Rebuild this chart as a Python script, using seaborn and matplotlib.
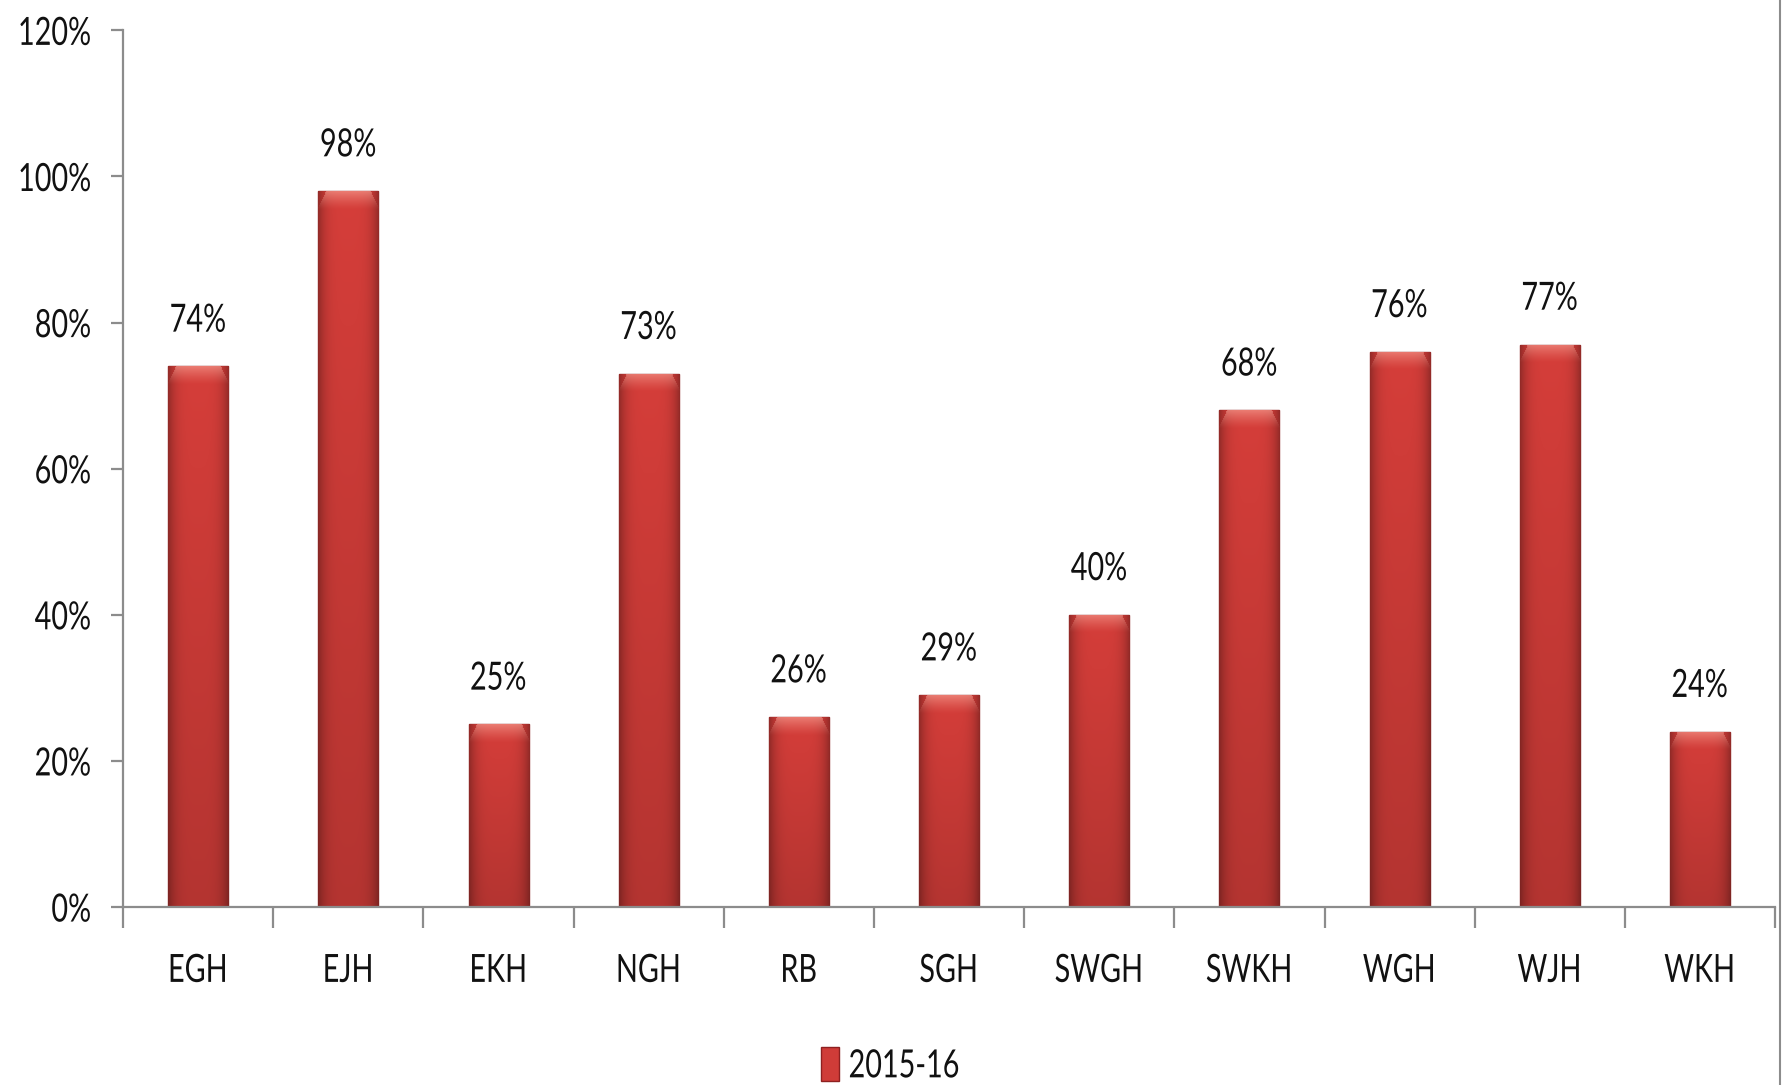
import numpy as np
import pandas as pd
import matplotlib
matplotlib.use("Agg")
import matplotlib.pyplot as plt
import seaborn as sns
from matplotlib.ticker import PercentFormatter, FixedLocator
from matplotlib.patches import Patch
from matplotlib.patheffects import AbstractPathEffect
from matplotlib.transforms import Affine2D

# data
hospitals = ["EGH", "EJH", "EKH", "NGH", "RB", "SGH", "SWGH", "SWKH", "WGH", "WJH", "WKH"]
share = [0.74, 0.98, 0.25, 0.73, 0.26, 0.29, 0.40, 0.68, 0.76, 0.77, 0.24]
year = "2015-16"
y_ticks = [0, 0.2, 0.4, 0.6, 0.8, 1.0, 1.2]

BAR_RED = "#cf3c38"
AXIS_GREY = "#8c8c8c"
FS = 28
SQUEEZE = 0.74


class Narrow(AbstractPathEffect):
    """squeeze glyphs sideways, the reference uses a narrow face"""
    def __init__(self, sx=SQUEEZE, anchor="center"):
        super().__init__()
        self.sx = sx
        self.anchor = anchor

    def draw_path(self, renderer, gc, tpath, affine, rgbFace=None):
        pts = affine.transform(tpath.vertices)
        if len(pts) == 0:
            return
        lo, hi = pts[:, 0].min(), pts[:, 0].max()
        cx = {"left": lo, "right": hi}.get(self.anchor, (lo + hi) / 2)
        tr = affine + Affine2D().translate(-cx, 0).scale(self.sx, 1).translate(cx, 0)
        renderer.draw_path(gc, tpath, tr, rgbFace)


sns.set_theme(style="white")
plt.rcParams["font.family"] = ["Lato", "DejaVu Sans"]
plt.rcParams["text.color"] = "#111111"

df = pd.DataFrame({"hospital": hospitals, "share": share, "year": year})

fig = plt.figure(figsize=(17.84, 10.85), dpi=100)
ax = fig.add_axes([0.069, 0.164, 0.926, 0.808])

sns.barplot(data=df, x="hospital", y="share", hue="year", palette=[BAR_RED],
            width=0.4, ax=ax, legend=False, saturation=1)

ax.set_ylim(0, 1.2)
ax.set_xlim(-0.5, len(hospitals) - 0.5)
ax.set_yticks(y_ticks)
ax.yaxis.set_major_formatter(PercentFormatter(1.0, decimals=0))
ax.set_xlabel("")
ax.set_ylabel("")

for side in ["top", "right"]:
    ax.spines[side].set_visible(False)
for side in ["left", "bottom"]:
    ax.spines[side].set_color(AXIS_GREY)
    ax.spines[side].set_linewidth(1.6)

ax.tick_params(axis="y", length=9, width=1.6, color=AXIS_GREY, pad=14,
               labelsize=FS, labelcolor="#111111", left=True)
ax.tick_params(axis="x", which="major", length=0, pad=33, labelsize=FS,
               labelcolor="#111111")
ax.xaxis.set_minor_locator(FixedLocator(np.arange(-0.5, len(hospitals), 1.0)))
ax.tick_params(axis="x", which="minor", length=15, width=1.6, color=AXIS_GREY,
               bottom=True)

# glossy fill on each bar, clipped to the seaborn patch
fig.canvas.draw()
to_px = ax.transData
base = np.array(matplotlib.colors.to_rgb(BAR_RED))
for bar in list(ax.patches):
    x0, y0 = bar.get_x(), bar.get_y()
    w, h = bar.get_width(), bar.get_height()
    (px0, py0), (px1, py1) = to_px.transform([(x0, y0), (x0 + w, y0 + h)])
    nrows = max(int(abs(py1 - py0)), 2)
    ncols = max(int(abs(px1 - px0)), 2)
    u = np.linspace(-1, 1, ncols)
    hshade = 1.0 - 0.30 * np.abs(u) ** 4
    v = np.linspace(0, 1, nrows)  # 0 top, 1 bottom
    vshade = 1.03 - 0.16 * v
    img = base[None, None, :] * hshade[None, :, None] * vshade[:, None, None]
    bevel = 18
    for r in range(min(bevel, nrows)):
        k = (1 - r / bevel) ** 1.3 * 0.5
        inset = int((1 - r / bevel) * 0.14 * ncols)
        img[r, inset:ncols - inset, :] = img[r, inset:ncols - inset, :] * (1 - k) + np.array([1.0, 0.72, 0.66]) * k
    img = np.clip(img, 0, 1)
    im = ax.imshow(img, extent=(x0, x0 + w, y0, y0 + h), aspect="auto",
                   origin="upper", zorder=bar.get_zorder() + 0.1, interpolation="bilinear")
    im.set_clip_path(bar)
    bar.set_edgecolor("#8e2020")
    bar.set_linewidth(1.0)

ax.set_xlim(-0.5, len(hospitals) - 0.5)
ax.set_ylim(0, 1.2)

for i, v in enumerate(share):
    ax.annotate(f"{v:.0%}", (i, v), xytext=(0, 20), textcoords="offset points",
                ha="center", va="bottom", fontsize=FS,
                path_effects=[Narrow(anchor="center")])

handle = Patch(facecolor=BAR_RED, edgecolor="#8e2020")
leg = fig.legend([handle], [year], loc="center", bbox_to_anchor=(0.51, 0.018),
                 frameon=False, fontsize=FS, handlelength=0.45, handleheight=1.0,
                 handletextpad=0.25)
for t in leg.get_texts():
    t.set_path_effects([Narrow(anchor="left")])

fig.add_artist(plt.Line2D([0.9975, 0.9975], [0, 1], color=AXIS_GREY, linewidth=1.5))

# y labels: keep the squeezed glyphs flush right at the same spot, but let the
# text box start from the left of the glyphs so it stays inside the figure
fig.canvas.draw()
renderer = fig.canvas.get_renderer()
for tk in ax.yaxis.get_major_ticks():
    lab = tk.label1
    wpx = lab.get_window_extent(renderer).width
    lab.set_horizontalalignment("left")
    lab.set_transform(lab.get_transform() + Affine2D().translate(-SQUEEZE * wpx, 0))
    lab.set_path_effects([Narrow(anchor="left")])
for tk in ax.xaxis.get_major_ticks():
    tk.label1.set_path_effects([Narrow(anchor="center")])

fig.savefig("out.png", dpi=100)
